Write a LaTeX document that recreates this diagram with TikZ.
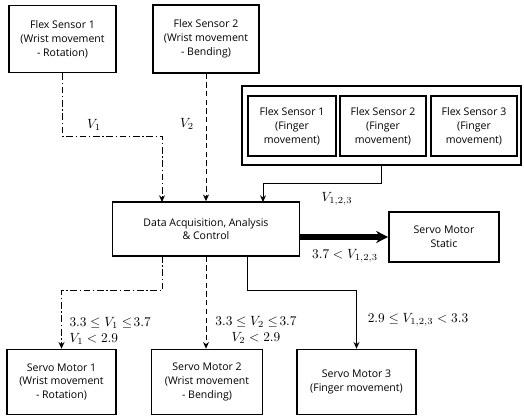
\documentclass[tikz,border=0pt]{standalone}
\usepackage{fontspec}
\setmainfont{Open Sans}
\usetikzlibrary{arrows.meta}

\tikzset{every picture/.style={line width=0.75pt}}

\begin{document}
\begin{tikzpicture}[x=0.75pt,y=0.75pt,yscale=-1,xscale=1,
  box/.style={draw, line width=1.25pt, align=center, inner sep=0pt, font=\fontsize{7.9}{10.4}\selectfont},
  dashdot/.style={dash pattern=on 5pt off 2pt on 1pt off 2pt},
  dashline/.style={dash pattern=on 4pt off 2.5pt},
  tip/.style={-{Stealth[length=5pt,width=4.5pt]}},
  lbl/.style={inner sep=0.75pt, font=\normalsize}]
\useasboundingbox (0,0) rectangle (524,416);

%Wrist sensors
\node [box, minimum width=80.25pt, minimum height=50.25pt] (fs1) at (62.5,39) {Flex Sensor 1\\(Wrist movement\\- Rotation)};
\node [box, minimum width=79.5pt, minimum height=51pt] (fs2) at (206,39) {Flex Sensor 2\\(Wrist movement\\- Bending)};

%Finger sensors in a frame
\node [box, minimum width=209.25pt, minimum height=59.25pt] (grp) at (381.5,125.5) {};
\node [box, minimum width=66pt, minimum height=45pt] (ff1) at (292,126) {Flex Sensor 1\\(Finger\\movement)};
\node [box, minimum width=64.5pt, minimum height=45pt] (ff2) at (383,126) {Flex Sensor 2\\(Finger\\movement)};
\node [box, minimum width=64.5pt, minimum height=45pt] (ff3) at (474,126) {Flex Sensor 3\\(Finger\\movement)};

%Controller and servos
\node [box, minimum width=140.25pt, minimum height=40.5pt] (daq) at (206,229) {Data Acquisition, Analysis\\\& Control};
\node [box, minimum width=82.5pt, minimum height=37.5pt] (sms) at (444,237) {Servo Motor\\Static};
\node [box, minimum width=81.75pt, minimum height=48.75pt] (sm1) at (61.5,382) {Servo Motor 1\\(Wrist movement\\- Rotation)};
\node [box, minimum width=83.25pt, minimum height=48.75pt] (sm2) at (207,382) {Servo Motor 2\\(Wrist movement\\- Bending)};
\node [box, minimum width=89.25pt, minimum height=48.75pt] (sm3) at (356.5,382) {Servo Motor 3\\(Finger movement)};

%Ports on the controller
\coordinate (p1) at (162,202);
\coordinate (p3) at (263,202);
\coordinate (q1) at (162,256);
\coordinate (q3) at (247,256);

%Inputs
\draw [dashdot, tip] (fs1.south) -- ++(0,63) -| (p1);
\draw [dashline, tip] (fs2.south) -- (fs2.south |- daq.north);
\draw [tip] (grp.south) -- ++(0,18) -| (p3);

%Outputs
\draw [-{Stealth[length=9pt,width=9pt]}, line width=4.5pt] (daq.east |- sms.west) -- (sms.west);
\draw [dashdot, tip] (q1) -- ++(0,35) -| (sm1.north);
\draw [dashline, tip] (daq.south) -- (daq.south |- sm2.north);
\draw [tip] (q3) -- ++(0,35) -| (sm3.north);

% Text Node
\node [lbl] (v1) at (94,125) {$V_1$};
% Text Node
\node [lbl] (v2) at (187,124) {$V_2$};
% Text Node
\node [lbl] (v123) at (337,199) {$V_{1,2,3}$};
% Text Node
\node [lbl] (cs) at (345,256) {$3.7<V_{1,2,3}$};
% Text Node
\node [lbl, anchor=west, align=left] (c1) at (68,331) {$3.3\le V_1\le\!3.7$\\$V_1<2.9$};
% Text Node
\node [lbl, align=center] (c2) at (256,330) {$3.3\le V_2\le\!3.7$\\$V_2<2.9$};
% Text Node
\node [lbl] (c3) at (418,320) {$2.9\le V_{1,2,3}<3.3$};

\end{tikzpicture}
\end{document}
